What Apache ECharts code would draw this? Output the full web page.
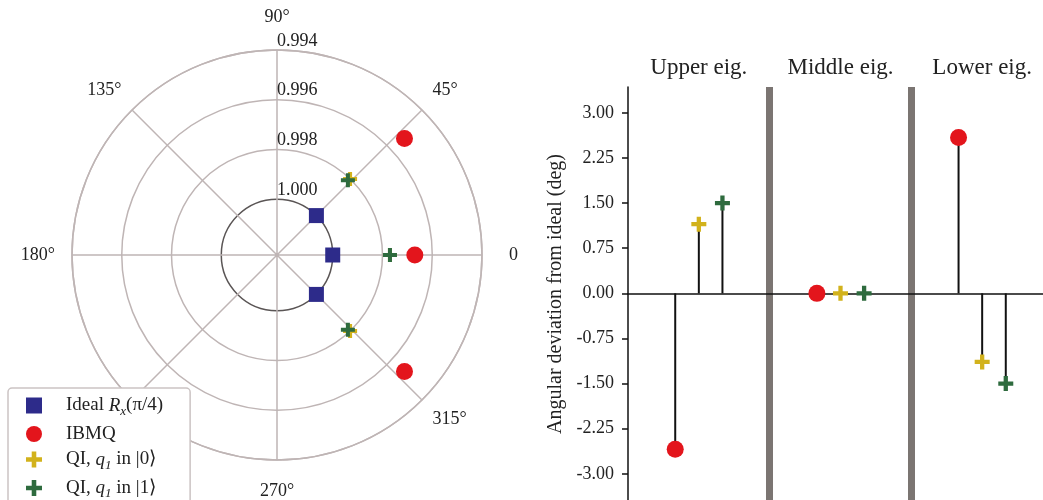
<!DOCTYPE html>
<html>
<head>
<meta charset="utf-8">
<script src="https://cdn.jsdelivr.net/npm/echarts@6/dist/echarts.min.js"></script>
<style>
html, body { margin: 0; padding: 0; background: #fff; }
#chart { width: 1043px; height: 500px; }
</style>
</head>
<body>
<div id="chart"></div>
<script>
// eigenvalue groups (upper / middle / lower)
const eigNames = ['Upper eig.', 'Middle eig.', 'Lower eig.'];
const idealAngle = [45, 0, 315];
// radial value (|eigenvalue|)
const idealR = [1.000, 1.000, 1.000];
const ibmqR = [0.9953, 0.9967, 0.9953];
const qi0R = [0.9980, 0.9977, 0.9980];
const qi1R = [0.9981, 0.9977, 0.9981];
// angular deviation from ideal (deg)
const ibmqDev = [-2.59, 0, 2.59];
const qi0Dev = [1.15, 0, -1.14];
const qi1Dev = [1.5, 0, -1.5];

const FONT = 'Liberation Serif';
const GRID = '#bfb5b5';
const C_IDEAL = '#2d2b8a';
const C_IBMQ = '#e3151c';
const C_QI0 = '#d2b21c';
const C_QI1 = '#2e6b3e';
const PLUS = 'path://M5,0H9V5H14V9H9V14H5V9H0V5H5Z';
const SQUARE = 'path://M0,0H10V10H0Z';

const legendText = {
  'Ideal': '{n|Ideal }{i|R}{s|x}{n|(π/4)}',
  'IBMQ': '{n|IBMQ}',
  'QI0': '{n|QI, }{i|q}{s|1}{n| in |0⟩}',
  'QI1': '{n|QI, }{i|q}{s|1}{n| in |1⟩}'
};

function polarData(r, dev) {
  return r.map((v, i) => [v, idealAngle[i] + (dev ? dev[i] : 0)]);
}
// position inside each group: red left, yellow middle, green right
function stemData(dev, off) {
  return dev.map((v, i) => [i + off, v]);
}
// matplotlib puts angle labels at a fixed radius, echarts aligns their edges
function angleLabel(v) {
  if (v === 360) return '';
  if (v === 0) return '{e|0}';
  if (v === 90) return '{n|90°}';
  if (v === 180) return '{w|180°}';
  if (v === 270) return '{s|270°}';
  return '{d|' + v + '°}';
}

let chart = echarts.init(document.getElementById('chart'));
let option = {
  animation: false,
  textStyle: { fontFamily: FONT },
  legend: {
    orient: 'vertical',
    left: 8,
    top: 388,
    height: 160,
    backgroundColor: '#fff',
    borderColor: '#cbc3c3',
    borderWidth: 1.5,
    borderRadius: 4,
    padding: [8, 27, 20, 18],
    itemWidth: 30,
    itemHeight: 16,
    itemGap: 6.5,
    z: 20,
    data: [
      { name: 'Ideal', icon: SQUARE, itemStyle: { color: C_IDEAL } },
      { name: 'IBMQ', icon: 'circle', itemStyle: { color: C_IBMQ } },
      { name: 'QI0', icon: PLUS, itemStyle: { color: C_QI0 } },
      { name: 'QI1', icon: PLUS, itemStyle: { color: C_QI1 } }
    ],
    formatter: name => legendText[name],
    textStyle: {
      padding: [0, 0, 0, 12],
      rich: {
        n: { fontFamily: FONT, fontSize: 19, color: '#222' },
        i: { fontFamily: FONT, fontSize: 19, fontStyle: 'italic', color: '#222' },
        s: { fontFamily: FONT, fontSize: 13, fontStyle: 'italic', color: '#222', padding: [12, 0, 0, 0] }
      }
    }
  },
  polar: [
    { center: [277, 255], radius: 205 },
    { center: [277, 255], radius: 205 }
  ],
  angleAxis: [
    {
      polarIndex: 0,
      type: 'value',
      min: 0,
      max: 360,
      interval: 45,
      startAngle: 0,
      clockwise: false,
      axisLine: { lineStyle: { color: GRID, width: 1.5 } },
      axisTick: { show: false },
      axisLabel: {
        margin: 15,
        fontSize: 18,
        color: '#222',
        fontFamily: FONT,
        formatter: angleLabel,
        rich: {
          d: { fontSize: 18, fontFamily: FONT, color: '#222' },
          e: { fontSize: 18, fontFamily: FONT, color: '#222', padding: [0, 0, 0, 12] },
          w: { fontSize: 18, fontFamily: FONT, color: '#222', padding: [0, 2, 0, 0] },
          n: { fontSize: 18, fontFamily: FONT, color: '#222', padding: [0, 0, 9, 0] },
          s: { fontSize: 18, fontFamily: FONT, color: '#222', padding: [7, 0, 0, 0] }
        }
      },
      splitLine: { show: true, lineStyle: { color: GRID, width: 1.5 } }
    },
    {
      polarIndex: 1,
      type: 'value',
      min: 0,
      max: 360,
      startAngle: 90,
      show: false
    }
  ],
  radiusAxis: [
    {
      polarIndex: 0,
      type: 'value',
      min: 0.994,
      max: 1.00224,
      interval: 0.002,
      inverse: true,
      axisLine: { show: false },
      axisTick: { show: false },
      axisLabel: { show: false },
      splitLine: {
        show: true,
        lineStyle: {
          color: [GRID, GRID, GRID, '#5a5555', 'rgba(0,0,0,0)', 'rgba(0,0,0,0)'],
          width: 1.5
        }
      }
    },
    {
      polarIndex: 1,
      type: 'value',
      min: 0.994,
      max: 1.00224,
      interval: 0.002,
      inverse: true,
      axisLine: { show: false },
      axisTick: { show: false },
      splitLine: { show: false },
      axisLabel: {
        margin: 0,
        align: 'left',
        verticalAlign: 'bottom',
        fontSize: 18,
        color: '#222',
        fontFamily: FONT,
        formatter: v => v > 1.0001 ? '' : v.toFixed(3)
      }
    }
  ],
  grid: { left: 628, top: 87, width: 425, height: 432, outerBoundsMode: 'none', containLabel: false },
  xAxis: [
    {
      type: 'value',
      min: -0.5,
      max: 2.5,
      axisLine: { onZero: true, lineStyle: { color: '#111', width: 1.5 } },
      axisTick: { show: false },
      axisLabel: { show: false },
      splitLine: { show: false }
    },
    {
      type: 'category',
      position: 'top',
      data: eigNames,
      boundaryGap: true,
      axisLine: { show: false },
      axisTick: { show: false },
      axisLabel: { fontSize: 23, margin: 8, color: '#222', fontFamily: FONT },
      splitLine: {
        show: true,
        lineStyle: { color: ['rgba(0,0,0,0)', '#7b7572', '#7b7572', 'rgba(0,0,0,0)'], width: 7 }
      }
    }
  ],
  yAxis: {
    type: 'value',
    min: -3.75,
    max: 3.43,
    interval: 0.75,
    name: 'Angular deviation from ideal (deg)',
    nameLocation: 'middle',
    nameGap: 62,
    nameTextStyle: { fontSize: 20, color: '#222', fontFamily: FONT, padding: [0, 0, 0, 18] },
    axisLine: { show: true, onZero: false, lineStyle: { color: '#111', width: 1.5 } },
    axisTick: { show: true, length: 6, lineStyle: { color: '#111', width: 1.5 } },
    axisLabel: {
      margin: 14,
      fontSize: 18,
      color: '#222',
      fontFamily: FONT,
      showMaxLabel: false,
      formatter: v => v.toFixed(2)
    },
    splitLine: { show: false }
  },
  series: []
};

// polar plot
option.series.push(
  { name: 'Ideal', type: 'scatter', coordinateSystem: 'polar', polarIndex: 0,
    symbol: 'rect', symbolSize: 15, itemStyle: { color: C_IDEAL, opacity: 1 }, data: polarData(idealR) },
  { name: 'IBMQ', type: 'scatter', coordinateSystem: 'polar', polarIndex: 0,
    symbol: 'circle', symbolSize: 17, itemStyle: { color: C_IBMQ, opacity: 1 }, data: polarData(ibmqR, ibmqDev) },
  { name: 'QI0', type: 'scatter', coordinateSystem: 'polar', polarIndex: 0,
    symbol: PLUS, symbolSize: 14, itemStyle: { color: C_QI0, opacity: 1 }, data: polarData(qi0R, qi0Dev) },
  { name: 'QI1', type: 'scatter', coordinateSystem: 'polar', polarIndex: 0,
    symbol: PLUS, symbolSize: 14, itemStyle: { color: C_QI1, opacity: 1 }, data: polarData(qi1R, qi1Dev) }
);

// stem plot
const stems = [
  { name: 'IBMQ', dev: ibmqDev, off: -1 / 6, symbol: 'circle', size: 17, color: C_IBMQ },
  { name: 'QI0', dev: qi0Dev, off: 0, symbol: PLUS, size: 15, color: C_QI0 },
  { name: 'QI1', dev: qi1Dev, off: 1 / 6, symbol: PLUS, size: 15, color: C_QI1 }
];
stems.forEach(s => {
  option.series.push({
    type: 'custom',
    xAxisIndex: 0,
    yAxisIndex: 0,
    z: 2,
    silent: true,
    data: stemData(s.dev, s.off),
    renderItem: (params, api) => {
      const p0 = api.coord([api.value(0), 0]);
      const p1 = api.coord([api.value(0), api.value(1)]);
      return {
        type: 'line',
        shape: { x1: p0[0], y1: p0[1], x2: p1[0], y2: p1[1] },
        style: { stroke: '#111', lineWidth: 2 }
      };
    }
  });
  option.series.push({
    name: s.name,
    type: 'scatter',
    xAxisIndex: 0,
    yAxisIndex: 0,
    z: 3,
    symbol: s.symbol,
    symbolSize: s.size,
    itemStyle: { color: s.color, opacity: 1 },
    data: stemData(s.dev, s.off)
  });
});

chart.setOption(option, true);
</script>
</body>
</html>
